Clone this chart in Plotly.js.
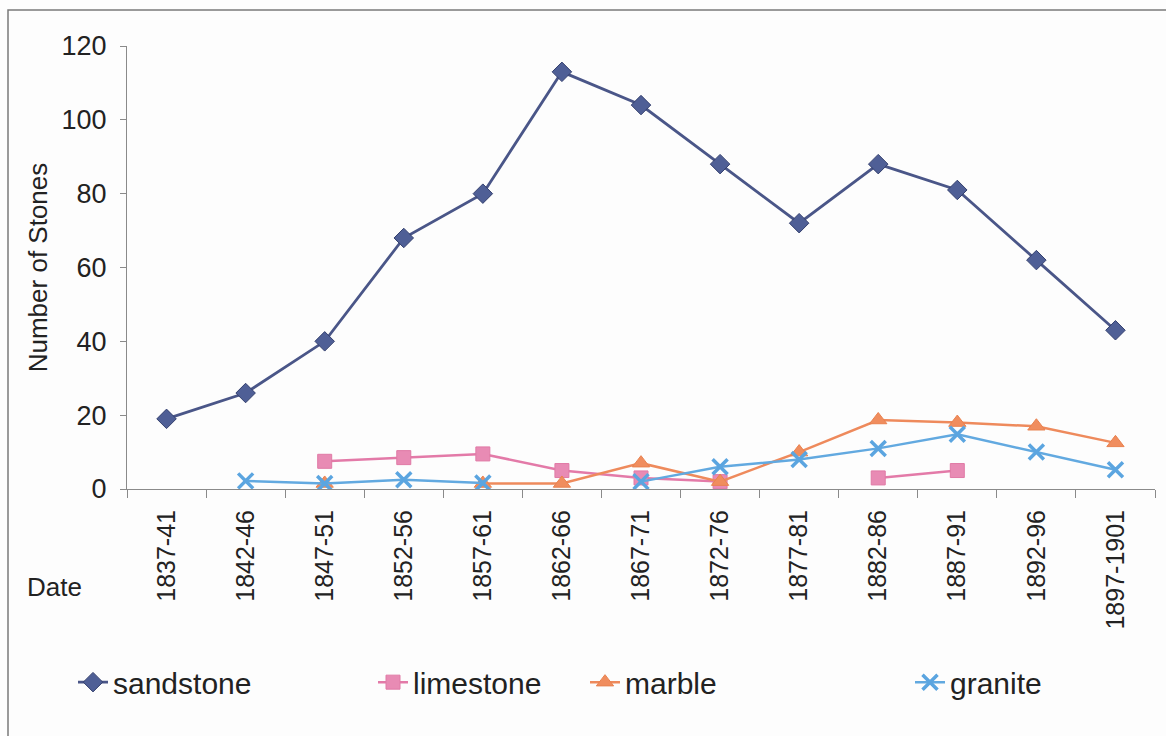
<!DOCTYPE html>
<html>
<head>
<meta charset="utf-8">
<script src="https://cdn.plot.ly/plotly-3.0.1.min.js"></script>
<style>
  html, body { margin: 0; padding: 0; background: #fdfdfd; }
  #chart { width: 1166px; height: 736px; }
</style>
</head>
<body>
<div id="chart"></div>
<script>
const categories = ["1837-41", "1842-46", "1847-51", "1852-56", "1857-61", "1862-66", "1867-71",
                    "1872-76", "1877-81", "1882-86", "1887-91", "1892-96", "1897-1901"];
const sandstone = [19, 26, 40, 68, 80, 113, 104, 88, 72, 88, 81, 62, 43];
const limestone = [null, null, 7.5, 8.5, 9.5, 5, 3, 2, null, 3, 5, null, null];
const marble    = [null, null, 1.5, null, 1.5, 1.5, 7, 2, 10, 18.7, 18, 17, 12.5];
const granite   = [null, 2.2, 1.5, 2.5, 1.6, null, 2, 6, 8, 11, 14.8, 10, 5.2];
const yTicks = [0, 20, 40, 60, 80, 100, 120];

const FONT = "Liberation Sans, Arial, sans-serif";
const TXT = "#222222";

const traces = [
  { name: "sandstone", x: categories, y: sandstone, type: "scatter", mode: "lines+markers",
    line: { color: "#4a5688", width: 2.8 },
    marker: { symbol: "diamond", size: 15, color: "#4f5f96", line: { color: "#34406e", width: 1 } },
    legend: "legend" },
  { name: "limestone", x: categories, y: limestone, type: "scatter", mode: "lines+markers",
    line: { color: "#e37aa8", width: 2.5 },
    marker: { symbol: "square", size: 14, color: "#e88bb4", line: { color: "#e07aa6", width: 1 } },
    legend: "legend2" },
  { name: "marble", x: categories, y: marble, type: "scatter", mode: "lines+markers",
    line: { color: "#ee8a5c", width: 2.5 },
    marker: { symbol: "triangle-up", size: 15, color: "#f08d5e", line: { color: "#e9824f", width: 1 } },
    legend: "legend3" },
  { name: "granite", x: categories, y: granite, type: "scatter", mode: "lines+markers",
    line: { color: "#62a9e0", width: 2.5 },
    marker: { symbol: "x-thin", size: 15, color: "#62a9e0", line: { color: "#5ba5e0", width: 3.5 } },
    legend: "legend4" }
];

function lg(xpx) {
  return { x: (xpx - 127) / 1028, xanchor: "left", y: -0.436, yanchor: "middle",
           orientation: "h", bgcolor: "rgba(0,0,0,0)", borderwidth: 0,
           font: { family: FONT, size: 30, color: TXT } };
}

const layout = {
  width: 1166, height: 736,
  margin: { l: 127, r: 11, t: 46, b: 247 },
  paper_bgcolor: "#fdfdfd", plot_bgcolor: "rgba(0,0,0,0)",
  font: { family: FONT, color: TXT },
  xaxis: {
    type: "category", categoryorder: "array", categoryarray: categories,
    tickson: "boundaries", ticks: "outside", ticklen: 8, tickcolor: "#8a8a8a", tickwidth: 1,
    showline: true, linecolor: "#8a8a8a", linewidth: 1, showgrid: false, zeroline: false,
    tickangle: -90, tickfont: { family: FONT, size: 25, color: TXT }, ticklabelstandoff: 10,
    range: [-0.5, categories.length - 0.5], fixedrange: true
  },
  yaxis: {
    range: [0, 120], tickvals: yTicks, ticktext: yTicks.map(String),
    ticks: "outside", ticklen: 6, tickcolor: "#8a8a8a", showline: true, linecolor: "#8a8a8a",
    linewidth: 1, showgrid: false, zeroline: false, ticklabelstandoff: 8,
    tickfont: { family: FONT, size: 27, color: TXT },
    title: { text: "Number of Stones", font: { family: FONT, size: 26, color: TXT }, standoff: 6 }
  },
  showlegend: true,
  legend: lg(73), legend2: lg(373), legend3: lg(585), legend4: lg(910),
  annotations: [
    { text: "Date", xref: "paper", yref: "paper", x: (54 - 127) / 1028, y: (489 - 587) / 443,
      xanchor: "center", yanchor: "middle", showarrow: false,
      font: { family: FONT, size: 26, color: TXT } }
  ],
  shapes: [
    { type: "rect", xref: "paper", yref: "paper", layer: "below",
      x0: (8 - 127) / 1028, x1: (1180 - 127) / 1028, y0: (489 - 760) / 443, y1: (489 - 10) / 443,
      line: { color: "#7a7a7a", width: 1.5 }, fillcolor: "rgba(0,0,0,0)" }
  ]
};

Plotly.newPlot("chart", traces, layout, { displayModeBar: false, staticPlot: true });
</script>
</body>
</html>
